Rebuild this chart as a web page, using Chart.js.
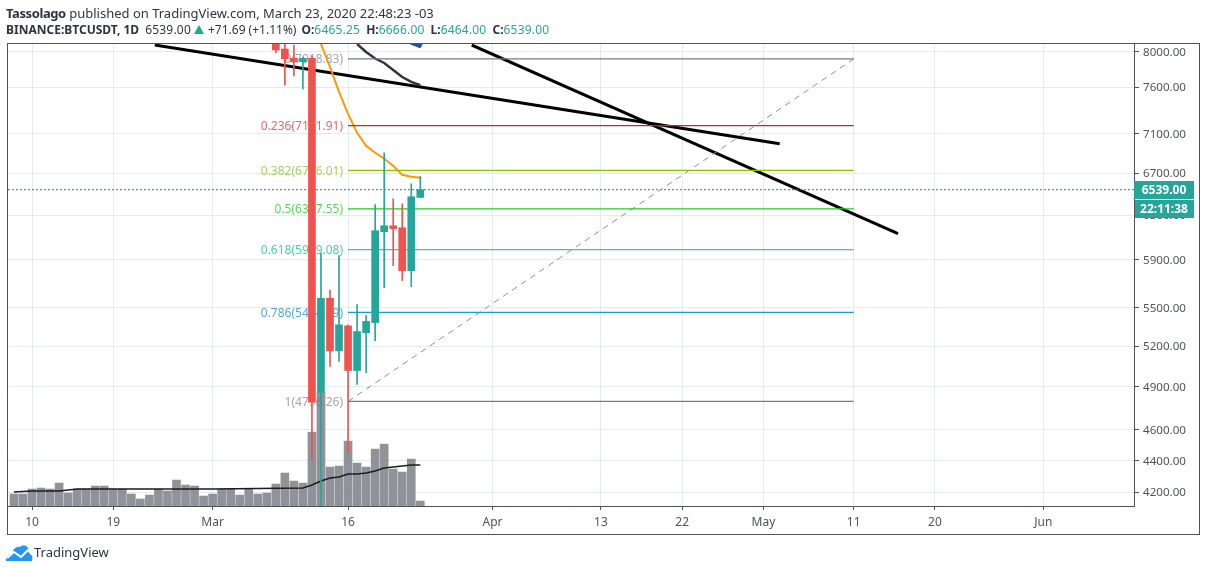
<!DOCTYPE html>
<html>
<head>
<meta charset="utf-8">
<title>BINANCE:BTCUSDT, 1D</title>
<script src="https://cdn.jsdelivr.net/npm/chart.js@4"></script>
<style>
  html, body { margin: 0; background: #fff; }
  body { width: 1207px; height: 571px; position: relative; overflow: hidden; font-family: "Noto Sans", sans-serif; color: #2f3340; }
  canvas { position: absolute; left: 0; top: 0; }
  .line { position: absolute; left: 6px; white-space: nowrap; line-height: 18px; }
  .l1 { top: 4px; font-size: 13px; }
  .l1 b { letter-spacing: -0.4px; }
  .l2 { top: 21px; font-size: 12px; }
  b { font-weight: 700; }
  .val { color: #26a69a; letter-spacing: 0.2px; }
  .num { letter-spacing: 0.2px; }
  .tri { display: inline-block; width: 0; height: 0; border-left: 5px solid transparent; border-right: 5px solid transparent; border-bottom: 9px solid #26a69a; margin: 0 4px 0 3px; }
  .g6 { margin-left: 6px; }
  .g5 { margin-left: 5px; }
  #logo { position: absolute; left: 6px; top: 544px; }
  #brand { position: absolute; left: 34px; top: 543px; font-size: 13px; line-height: 18px; }
</style>
</head>
<body>
<canvas id="chart" width="1207" height="571"></canvas>
<div class="line l1"><b>Tassolago</b> published on TradingView.com, March 23, 2020 22:48:23 -03</div>
<div class="line l2"><b>BINANCE:BTCUSDT, 1D</b><span class="g6 num">6539.00</span><span class="tri"></span>+71.69 (+1.11%)<b class="g5">O:</b><span class="val">6465.25</span><b class="g6">H:</b><span class="val">6666.00</span><b class="g6">L:</b><span class="val">6464.00</span><b class="g6">C:</b><span class="val">6539.00</span></div>
<svg id="logo" width="27" height="17" viewBox="0 0 27 17">
  <path d="M0 17 C0 12 3 10 6 10 C7 5 10 2 14 3 C17 0 23 2 23 7 C26 8 27 13 26 17 Z" fill="#2196f3"/>
  <polyline points="1,14 8,8 15,13 22,6 26,11" fill="none" stroke="#fff" stroke-width="2"/>
</svg>
<div id="brand">TradingView</div>
<script>
// day numbers count from Feb 10 2020 = 0
const xTickDays   = [0, 9, 20, 35, 51, 63, 72, 81, 91, 100, 112];
const xTickLabels = ['10', '19', 'Mar', '16', 'Apr', '13', '22', 'May', '11', '20', 'Jun'];
const yTicks = [8000, 7600, 7100, 6700, 6300, 5900, 5500, 5200, 4900, 4600, 4400, 4200];

// candles Mar 8 - Mar 24 (the earlier ones sit above the visible range)
const candleDays = [27, 28, 29, 30, 31, 32, 33, 34, 35, 36, 37, 38, 39, 40, 41, 42, 43];
const opens  = [8200, 8035, 7926, 7887, 7926, 4860, 5578, 5164, 5357, 5018, 5304, 5383, 6149, 6203, 6185, 5808, 6465.25];
const closes = [8023, 7922, 7887, 7926, 4790, 5578, 5164, 5365, 5018, 5312, 5392, 6158, 6203, 6176, 5808, 6472, 6539];
const highs  = [8300, 8150, 8082, 7940, 7950, 5958, 5646, 5937, 5365, 5527, 5439, 6397, 6902, 6453, 6405, 6596, 6666];
const lows   = [7988, 7620, 7724, 7580, 4400, 3800, 5048, 5085, 4445, 4917, 5003, 5243, 5664, 5851, 5724, 5674, 6464];

// volume, Feb 8 - Mar 24, hidden axis
const volumeStartDay = -2;
const volumes = [12, 12, 17, 18, 17, 23, 13, 17, 17, 20, 20, 17, 17, 12, 7, 11, 17, 15, 26, 21, 20, 10, 12, 17, 17, 11, 17, 12, 13, 22, 33, 25, 23, 74, 114, 39, 40, 65, 43, 39, 57, 62, 37, 34, 47, 5];
const volMaDays = [-2, 0, 3, 5, 20, 30, 31, 32, 33, 34, 35, 36, 37, 38, 39, 40, 41, 42, 43];
const volMa     = [14, 15, 15, 17, 17, 18, 21, 25, 28, 29, 32, 32, 33, 35, 38, 39, 40, 41, 41];

// moving averages on price
const orangeDays = [32, 33, 34, 35, 36, 37, 38, 39, 40, 41, 42, 43];
const orangeMa   = [8094, 7826, 7546, 7307, 7107, 6973, 6902, 6842, 6772, 6683, 6665, 6654];
const slateDays  = [36, 37, 38, 39, 40, 41, 42, 43];
const slateMa    = [8094, 8000, 7924, 7872, 7791, 7712, 7658, 7620];

// fibonacci drawing
const fibLevels = ['0', '0.236', '0.382', '0.5', '0.618', '0.786', '1'];
const fibPrices = [7918.83, 7181.91, 6726.01, 6357.55, 5989.08, 5464.49, 4796.26];
const fibColors = ['#787b86', '#c62828', '#8bc400', '#22cc22', '#3fc79a', '#2196d3', '#787b86'];
const fibLabelColors = ['#a5a7ae', '#e2686d', '#abcf63', '#58d858', '#45d3a4', '#52a9e0', '#a5a7ae'];
const fibDays = [35, 91];

// hand drawn trend lines
const trendA = { days: [13.6, 82.8], prices: [8082, 6993] };
const trendB = { days: [48.7, 95.9], prices: [8082, 6131] };
const blueMarkDays   = [41.9, 43, 43.2];
const blueMarkPrices = [8094, 8050, 8094];

const lastPrice = 6539;
const countdown = '22:11:38';

const UP = '#26a69a', DOWN = '#ef5350', AXIS = '#50535e', GRID = '#e1ecf2';
const FONT = '"Noto Sans", sans-serif';
const X_MIN = -2.66, X_MAX = 122.04;
const Y_MIN = 4115, Y_MAX = 8094;

const points = (xs, ys) => xs.map((x, i) => ({ x, y: ys[i] }));
const candleColor = candleDays.map((d, i) => closes[i] >= opens[i] ? UP : DOWN);

function lineSet(label, data, color, width, extra) {
  return Object.assign({
    type: 'line', label, data, borderColor: color, borderWidth: width,
    pointRadius: 0, tension: 0, xAxisID: 'x', yAxisID: 'y', order: 3
  }, extra || {});
}

const fibSets = fibPrices.map((p, i) =>
  lineSet('fib ' + fibLevels[i], points(fibDays, [p, p]), fibColors[i], 1.3));

// fib labels go under the candles, like in the original
const fibLabelPlugin = {
  id: 'fibLabels',
  beforeDatasetsDraw(chart) {
    const { ctx, scales } = chart;
    const right = scales.x.getPixelForValue(fibDays[0]) - 5;
    ctx.save();
    ctx.font = '12px ' + FONT;
    ctx.textAlign = 'right';
    ctx.textBaseline = 'middle';
    fibPrices.forEach((p, i) => {
      ctx.fillStyle = fibLabelColors[i];
      ctx.fillText(fibLevels[i] + '(' + p.toFixed(2) + ')', right, scales.y.getPixelForValue(p) + 1);
    });
    ctx.restore();
  }
};

// outer frame and the last price boxes on the axis
const framePlugin = {
  id: 'frame',
  afterDraw(chart) {
    const { ctx, scales } = chart;
    const right = scales.y.right, bottom = scales.x.bottom;
    const left = chart.chartArea.left, top = chart.chartArea.top;
    ctx.save();
    ctx.strokeStyle = AXIS;
    ctx.lineWidth = 1;
    ctx.strokeRect(left - 0.5, top - 0.5, right - left, bottom - top + 1);

    const y = Math.round(scales.y.getPixelForValue(lastPrice));
    const boxLeft = scales.y.left, boxWidth = 60;
    ctx.fillStyle = UP;
    ctx.fillRect(boxLeft, y - 9, boxWidth, 18);
    ctx.fillRect(boxLeft + 1, y + 10, boxWidth - 1, 18);
    ctx.fillStyle = '#fff';
    ctx.font = 'bold 12px ' + FONT;
    ctx.textAlign = 'center';
    ctx.textBaseline = 'middle';
    ctx.fillText(lastPrice.toFixed(2), boxLeft + boxWidth / 2, y + 1);
    ctx.fillText(countdown, boxLeft + boxWidth / 2, y + 20);
    ctx.restore();
  }
};

new Chart(document.getElementById('chart'), {
  type: 'bar',
  data: {
    datasets: [
      {
        label: 'Wicks',
        data: candleDays.map((d, i) => ({ x: d, y: [lows[i], highs[i]] })),
        backgroundColor: candleColor,
        barThickness: 1, grouped: false, xAxisID: 'x', yAxisID: 'y', order: 2
      },
      {
        label: 'Candles',
        data: candleDays.map((d, i) => ({ x: d, y: [opens[i], closes[i]] })),
        backgroundColor: candleColor,
        barThickness: 7, grouped: false, xAxisID: 'x', yAxisID: 'y', order: 1
      },
      {
        label: 'Volume',
        data: volumes.map((v, i) => ({ x: volumeStartDay + i, y: v })),
        backgroundColor: 'rgba(118, 120, 128, 0.8)',
        barThickness: 8, grouped: false, xAxisID: 'x', yAxisID: 'vol', order: 5
      },
      lineSet('Volume MA', points(volMaDays, volMa), '#1a1c22', 1.5, { yAxisID: 'vol', order: 4 }),
      ...fibSets,
      lineSet('Fib trend', points(fibDays, [fibPrices[6], fibPrices[0]]), '#8a8d96', 1, { borderDash: [6, 5] }),
      lineSet('Last price', points([X_MIN, X_MAX], [lastPrice, lastPrice]), '#26807a', 1, { borderDash: [2, 2] }),
      lineSet('MA fast', points(orangeDays, orangeMa), '#ff9800', 2),
      lineSet('MA slow', points(slateDays, slateMa), '#2f3545', 2.5),
      lineSet('Trend A', points(trendA.days, trendA.prices), '#000', 3),
      lineSet('Trend B', points(trendB.days, trendB.prices), '#000', 3),
      lineSet('Mark', points(blueMarkDays, blueMarkPrices), '#1b4fa8', 1, { fill: { value: Y_MAX }, backgroundColor: '#1b4fa8' })
    ]
  },
  options: {
    responsive: false,
    animation: false,
    layout: { padding: { left: 8, top: 44, right: 7, bottom: 37 } },
    plugins: {
      legend: { display: false },
      tooltip: { enabled: false }
    },
    scales: {
      x: {
        type: 'linear',
        offset: false,
        min: X_MIN,
        max: X_MAX,
        afterBuildTicks: (s) => { s.ticks = xTickDays.map(v => ({ value: v })); },
        afterFit: (s) => { s.height = 28; },
        ticks: {
          autoSkip: false, maxRotation: 0, padding: 5,
          color: AXIS, font: { family: FONT, size: 12 },
          callback: (v) => xTickLabels[xTickDays.indexOf(v)]
        },
        grid: { offset: false, color: GRID, tickColor: AXIS, tickLength: 4 },
        border: { color: AXIS }
      },
      y: {
        type: 'logarithmic',
        position: 'right',
        min: Y_MIN,
        max: Y_MAX,
        afterBuildTicks: (s) => { s.ticks = yTicks.map(v => ({ value: v })); },
        afterFit: (s) => { s.width = 66; },
        ticks: {
          autoSkip: false, padding: 4, labelOffset: 1,
          color: AXIS, font: { family: FONT, size: 11.6 },
          callback: (v) => v.toFixed(2)
        },
        grid: { color: GRID, tickColor: AXIS, tickLength: 5 },
        border: { color: AXIS }
      },
      vol: { type: 'linear', display: false, min: 0, max: 463 }
    }
  },
  plugins: [fibLabelPlugin, framePlugin]
});
</script>
</body>
</html>
